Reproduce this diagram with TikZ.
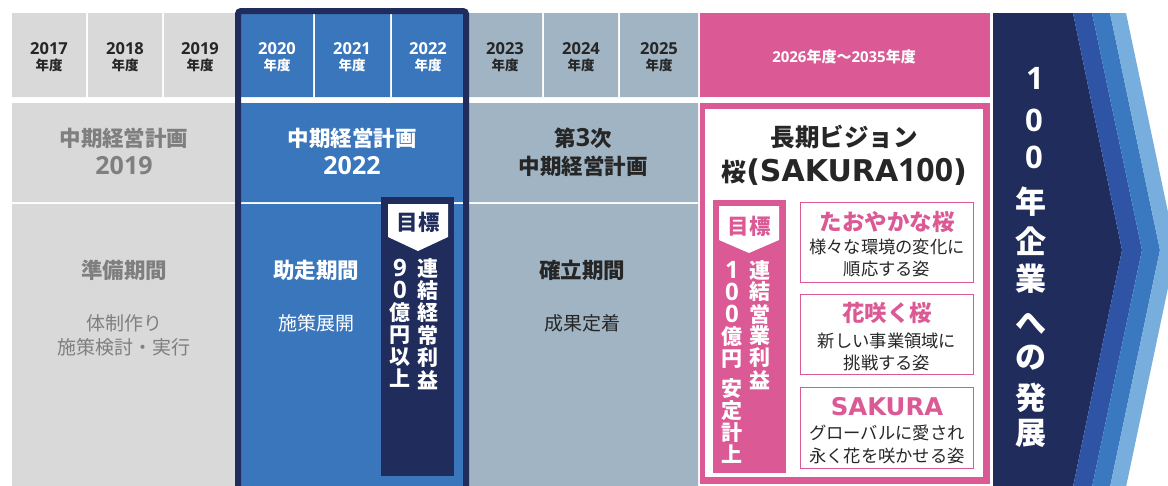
\documentclass[tikz,border=0pt]{standalone}
\usepackage{fontspec}
\setmainfont{Noto Sans CJK JP}
\newfontfamily\lat{Open Sans}
\newfontfamily\latw{DejaVu Sans}
\definecolor{lgrey}{HTML}{D9D9D9}
\definecolor{gtext}{HTML}{7F7F7F}
\definecolor{mblue}{HTML}{3A76BC}
\definecolor{navy}{HTML}{1F2C5C}
\definecolor{gblue}{HTML}{A0B4C3}
\definecolor{pinkc}{HTML}{DB5A96}
\definecolor{dtext}{HTML}{262626}
\definecolor{sblueA}{HTML}{2F54A5}
\definecolor{sblueB}{HTML}{3A78BF}
\definecolor{sblueC}{HTML}{78AEDD}
\newcommand{\jb}[1]{\bfseries\fontsize{#1}{#1}\selectfont}
\newcommand{\jr}[1]{\mdseries\fontsize{#1}{#1}\selectfont}
\newcommand{\ld}[2]{{\lat\bfseries\fontsize{#1}{#1}\selectfont #2}}
\newcommand{\lw}[2]{{\latw\bfseries\fontsize{#1}{#1}\selectfont #2}}
\tikzset{
  txt/.style={inner sep=0pt, align=center},
  yrd/.style={txt, font=\lat\bfseries\fontsize{16.5}{16.5}\selectfont},
  yrk/.style={txt, font=\jb{13.5}},
  ttl/.style={txt, font=\jb{21.5}},
  ttn/.style={txt, font=\lat\bfseries\fontsize{25}{25}\selectfont},
  sub/.style={txt, font=\jr{19}},
  vch/.style={txt, font=\jb{21}},
  vcol/.style={txt, anchor=north, font=\bfseries\fontsize{21}{22}\selectfont},
  boxt/.style={txt, font=\jb{22.5}, text=pinkc},
  boxb/.style={txt, font=\jr{17.3}, text=dtext},
  subbox/.style={draw=pinkc, line width=1.4pt, fill=white},
  arr/.style={txt, font=\jb{31}, text=white},
  arrd/.style={txt, font=\lat\bfseries\fontsize{31}{31}\selectfont, text=white},
}
\begin{document}
\begin{tikzpicture}[x=1pt,y=-1pt]
\useasboundingbox (0,0) rectangle (1168,485);
\clip (0,0) rectangle (1168,485);
\fill[white] (0,0) rectangle (1168,485);
% ---------- year row
\fill[lgrey] (12,13) rectangle (86,97) (88,13) rectangle (162,97) (164,13) rectangle (237,97);
\fill[mblue] (241,14) rectangle (313,97) (315,14) rectangle (390,97) (392,14) rectangle (463,97);
\fill[gblue] (469,13) rectangle (542,97) (544,13) rectangle (618,97) (620,13) rectangle (698,97);
\fill[pinkc] (700,13) rectangle (990,97);
% ---------- rows 2 and 3
\fill[lgrey] (12,103) rectangle (237,202) (12,204) rectangle (237,490);
\fill[mblue] (241,103) rectangle (463,202) (241,204) rectangle (463,490);
\fill[gblue] (469,103) rectangle (698,202) (469,204) rectangle (698,490);
\fill[pinkc] (700,103) rectangle (990,484);
\fill[white] (705,109) rectangle (983,477);
% ---------- frame of 2022 plan
\draw[navy, line width=6pt, rounded corners=3pt] (238,11) rectangle (466,520);
% ---------- chevron
\fill[navy] (993,13) -- (1073,13) -- (1122,250) -- (1073,487) -- (993,487) -- cycle;
\fill[sblueA] (1073,13) -- (1092,13) -- (1142,250) -- (1092,487) -- (1073,487) -- (1122,250) -- cycle;
\fill[sblueB] (1092,13) -- (1110,13) -- (1160,250) -- (1110,487) -- (1092,487) -- (1142,250) -- cycle;
\fill[sblueC] (1110,13) -- (1126,13) -- (1176,250) -- (1126,487) -- (1110,487) -- (1160,250) -- cycle;
% ---------- year labels
\foreach \cx/\yy/\cc in {49/2017/dtext,125/2018/dtext,200/2019/dtext,277/2020/white,352/2021/white,428/2022/white,505/2023/dtext,581/2024/dtext,659/2025/dtext}{
  \node[yrd, text=\cc] (d\yy) at (\cx,49) {\yy};
  \node[yrk, text=\cc] (k\yy) at (\cx,65) {年度};
}
\node[txt, font=\jb{15}, text=white] (longyr) at (844,57) {\ld{15}{2026}年度～\ld{15}{2035}年度};
% ---------- plan titles
\node[ttl, text=gtext] (p19a) at (124,138) {中期経営計画};
\node[ttn, text=gtext] (p19b) at (124,166) {2019};
\node[ttl, text=white] (p22a) at (352,138) {中期経営計画};
\node[ttn, text=white] (p22b) at (352,166) {2022};
\node[ttl, text=dtext] (p3a) at (583,138) {第\ld{25}{3}次};
\node[ttl, text=dtext] (p3b) at (583,166) {中期経営計画};
\node[txt, font=\jb{24.5}, text=dtext] (visa) at (844,137) {長期ビジョン};
\node[txt, font=\jb{25}, text=dtext] (visb) at (844,172) {桜\lw{30}{(SAKURA}\ld{32}{100}\lw{30}{)}};
% ---------- periods
\node[ttl, text=gtext] (pr1) at (124,270) {準備期間};
\node[sub, text=gtext] (pr1a) at (124,323) {体制作り};
\node[sub, text=gtext] (pr1b) at (124,347) {施策検討・実行};
\node[ttl, text=white] (pr2) at (316,270) {助走期間};
\node[sub, text=white] (pr2a) at (316,323) {施策展開};
\node[ttl, text=dtext] (pr3) at (582,270) {確立期間};
\node[sub, text=dtext] (pr3a) at (582,323) {成果定着};
% ---------- goal 2022
\fill[navy] (381,197) rectangle (454,476);
\fill[white] (388,204) -- (448,204) -- (448,237) -- (418,251) -- (388,237) -- cycle;
\node[txt, font=\jb{21.5}, text=navy] (g1) at (418,222) {目標};
\foreach \ch [count=\i from 0] in {連,結,経,常,利,益}{
  \node[vch, text=white] (g1r\i) at (428,{268+22.4*\i}) {\ch};
}
\node[vcol, text=white] (g1l) at (400,259.2) {\ld{24}{9}\\\ld{24}{0}\\億\\円\\以\\上};
% ---------- goal 2035
\fill[pinkc] (713,200) rectangle (786,473);
\fill[white] (719,206) -- (779,206) -- (779,240) -- (749,253) -- (719,240) -- cycle;
\node[txt, font=\jb{21.5}, text=pinkc] (g2) at (749,226) {目標};
\foreach \ch [count=\i from 0] in {連,結,営,業,利,益}{
  \node[vch, text=white] (g2r\i) at (760,{270+22*\i}) {\ch};
}
\node[vcol, text=white] (g2l) at (732,261.5) {\ld{24}{1}\\\ld{24}{0}\\\ld{24}{0}\\億\\円\\[8pt]安\\定\\計\\上};
% ---------- vision boxes
\draw[subbox] (800.7,202.7) rectangle (973.3,282.3);
\draw[subbox] (800.7,294.7) rectangle (973.3,374.3);
\draw[subbox] (800.7,387.7) rectangle (973.3,468.3);
\node[boxt] (b1t) at (887,222) {たおやかな桜};
\node[boxb] (b1a) at (887,247) {様々な環境の変化に};
\node[boxb] (b1b) at (887,269) {順応する姿};
\node[boxt] (b2t) at (887,313) {花咲く桜};
\node[boxb] (b2a) at (887,341) {新しい事業領域に};
\node[boxb] (b2b) at (887,363) {挑戦する姿};
\node[boxt] (b3t) at (887,407) {\lw{24.4}{SAKURA}};
\node[boxb] (b3a) at (887,433) {グローバルに愛され};
\node[boxb] (b3b) at (887,456) {永く花を咲かせる姿};
% ---------- chevron text
\node[arrd] (a0) at (1035,78) {1};
\node[arrd] (a1) at (1034,120) {0};
\node[arrd] (a2) at (1034,157) {0};
\foreach \ch/\yy [count=\i from 3] in {年/202,企/241,業/279,へ/324,の/358,発/398,展/433}{
  \node[arr] (a\i) at (1031,\yy) {\ch};
}
\end{tikzpicture}
\end{document}
